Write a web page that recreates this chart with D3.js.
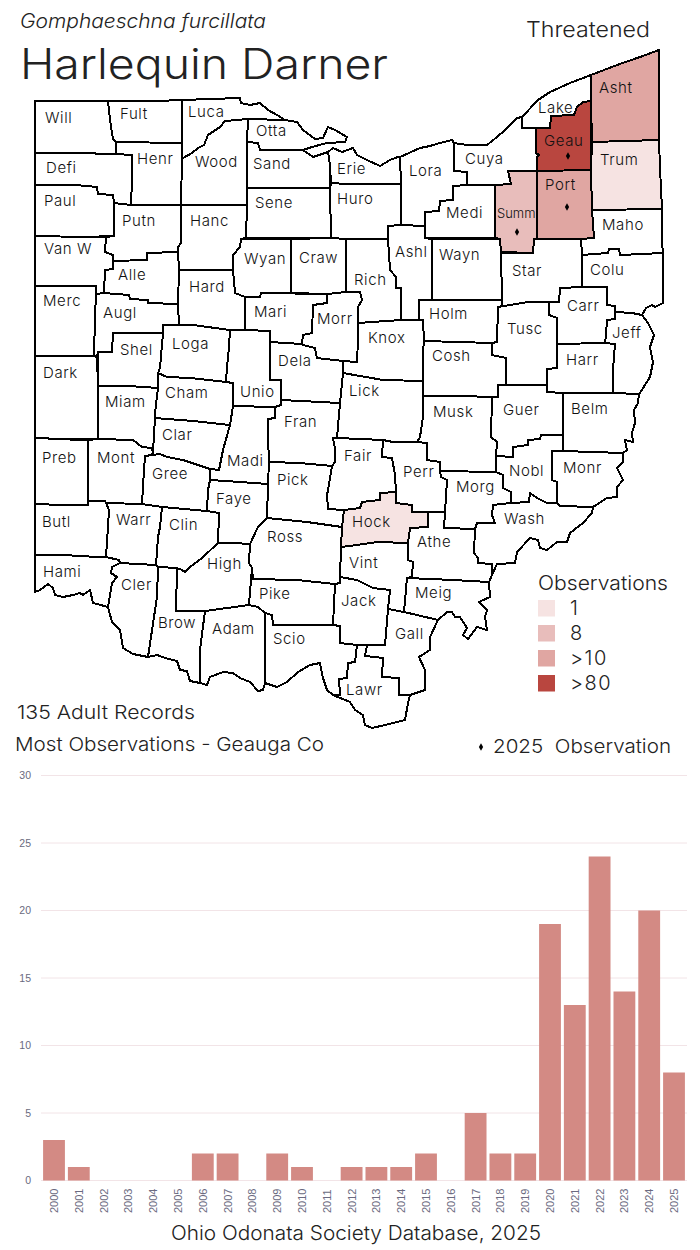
<!DOCTYPE html>
<html><head><meta charset="utf-8">
<script src="https://cdn.jsdelivr.net/npm/d3@7"></script>
<style>
html,body{margin:0;padding:0;background:#fff}
svg{display:block}
text{font-family:Inter,"Noto Sans",sans-serif;font-weight:300;fill:#222}
</style></head><body>
<svg id="c" width="700" height="1250"></svg>
<script>
// ---- Chart data ----
const years=["2000","2001","2002","2003","2004","2005","2006","2007","2008","2009","2010","2011","2012","2013","2014","2015","2016","2017","2018","2019","2020","2021","2022","2023","2024","2025"];
const yearCounts=[3,1,0,0,0,0,2,2,0,2,1,0,1,1,1,2,0,5,2,2,19,13,24,14,20,8];
const yTicks=[0,5,10,15,20,25,30];
const legendLabels=["1","8",">10",">80"];
const legendColors=["#f6e3e2","#e8bdbb","#e0a6a2","#b9463f"];
const countyClass={Trum:"1",Hock:"1",Summ:"8",Asht:">10",Port:">10",Geau:">80"};
const obs2025=["Geau","Port","Summ"];
// county outlines, in map units
const countyRings={
Will:[[35,101],[108,101],[110,120],[113,139],[116,142],[116,154],[96,154],[95,153],[35,153]],
Fult:[[108,101],[157,101],[182,100],[182,143],[116,142],[113,139],[110,120]],
Henr:[[116,142],[182,143],[182,157],[181,205],[131,205],[132,180],[132,155],[116,154]],
Luca:[[182,100],[210,99],[240,98],[241,103],[250,105],[260,103],[268,110],[277,115],[285,120],[248,119],[225,121],[220,127],[208,135],[204,145],[198,148],[192,153],[183,158],[182,157]],
Wood:[[182,157],[183,158],[192,153],[198,148],[204,145],[208,135],[220,127],[225,121],[248,119],[247,142],[247,188],[247,205],[181,205]],
Otta:[[248,119],[285,120],[297,122],[303,130],[315,139],[323,138],[328,127],[335,130],[347,137],[345,142],[327,143],[312,147],[303,150],[260,150],[258,143],[247,142]],
Sand:[[247,142],[258,143],[260,150],[303,150],[313,157],[328,152],[330,165],[330,188],[247,188]],
Sene:[[247,188],[330,188],[331,238],[246,238],[247,205]],
Hanc:[[181,205],[247,205],[246,238],[241,239],[240,247],[233,255],[233,270],[179,270],[178,252],[178,247],[181,243]],
Defi:[[35,153],[95,153],[96,154],[116,154],[132,155],[132,180],[131,205],[114,203],[113,195],[98,194],[97,187],[75,185],[35,185]],
Paul:[[35,185],[75,185],[97,187],[98,194],[113,195],[114,203],[114,236],[85,237],[35,236]],
Putn:[[114,203],[131,205],[181,205],[181,243],[178,247],[178,252],[147,253],[147,260],[113,261],[113,255],[105,252],[106,237],[114,236]],
VanW:[[35,236],[85,237],[106,237],[105,252],[113,255],[113,261],[113,269],[105,270],[104,293],[96,294],[96,286],[35,286]],
Alle:[[113,261],[147,260],[147,253],[178,252],[179,270],[178,304],[148,303],[148,300],[130,299],[129,295],[104,293],[105,270],[113,269]],
Augl:[[96,294],[104,293],[129,295],[130,299],[148,300],[148,303],[178,304],[179,325],[163,325],[163,333],[113,333],[112,352],[98,352],[97,357],[94,356],[95,317]],
Merc:[[35,286],[96,286],[96,294],[95,317],[94,356],[35,356]],
Dark:[[35,356],[94,356],[97,357],[98,386],[98,439],[50,439],[47,438],[35,438]],
Shel:[[98,352],[112,352],[113,333],[163,333],[160,368],[158,373],[158,388],[128,386],[98,386]],
Miam:[[98,386],[128,386],[158,388],[155,413],[155,418],[153,452],[151,448],[142,447],[133,440],[98,439]],
Loga:[[163,325],[179,325],[193,325],[230,330],[229,347],[227,367],[226,382],[190,378],[167,377],[158,373],[160,368],[163,333]],
Cham:[[158,373],[167,377],[190,378],[226,382],[233,383],[233,406],[230,425],[193,421],[155,418],[155,413],[158,388]],
Clar:[[155,418],[193,421],[230,425],[223,450],[219,470],[210,469],[183,460],[167,457],[160,454],[152,455],[153,452]],
Unio:[[230,330],[245,330],[270,331],[270,342],[270,380],[281,380],[281,405],[275,407],[233,406],[233,383],[226,382],[227,367],[229,347]],
Madi:[[233,406],[275,407],[275,418],[268,419],[268,437],[269,462],[268,484],[240,482],[210,480],[210,469],[219,470],[223,450],[230,425]],
Faye:[[210,480],[240,482],[268,484],[267,518],[258,527],[250,544],[233,543],[218,543],[219,513],[207,511],[208,490]],
Gree:[[152,455],[160,454],[167,457],[183,460],[210,469],[210,480],[208,490],[207,511],[162,507],[142,504],[144,470],[145,456]],
Mont:[[98,439],[133,440],[142,447],[151,448],[153,452],[152,455],[145,456],[144,470],[142,504],[106,503],[105,501],[88,501],[88,440]],
Preb:[[35,438],[47,438],[50,439],[88,440],[88,501],[88,505],[63,505],[35,504]],
Butl:[[35,504],[63,505],[88,505],[88,501],[105,501],[106,503],[109,510],[107,542],[106,557],[98,557],[63,555],[35,555]],
Warr:[[106,503],[142,504],[162,507],[160,527],[158,537],[156,565],[120,563],[119,560],[106,557],[107,542],[109,510]],
Clin:[[162,507],[207,511],[219,513],[218,543],[202,558],[190,567],[185,572],[182,570],[177,568],[158,567],[156,565],[158,537],[160,527]],
High:[[218,543],[233,543],[250,544],[249,563],[252,568],[251,580],[249,605],[227,608],[205,611],[176,611],[177,568],[182,570],[185,572],[190,567],[202,558]],
Ross:[[267,518],[307,522],[342,527],[341,547],[340,577],[340,583],[335,584],[297,580],[253,579],[252,568],[249,563],[250,544],[258,527]],
Pick:[[269,462],[300,463],[332,466],[328,490],[327,495],[328,509],[344,510],[342,527],[307,522],[267,518],[268,484]],
Fran:[[281,400],[340,403],[337,438],[333,438],[335,448],[335,462],[332,466],[300,463],[269,462],[268,437],[268,419],[275,418],[275,407],[281,405]],
Dela:[[270,342],[302,344],[303,345],[315,348],[317,358],[343,361],[343,373],[340,403],[281,400],[281,380],[270,380]],
Mari:[[245,297],[260,297],[261,293],[327,294],[327,303],[313,305],[312,333],[303,335],[302,344],[270,342],[270,331],[245,330]],
Wyan:[[241,239],[291,239],[291,293],[261,293],[260,297],[245,297],[235,293],[233,270],[233,255],[240,247]],
Hard:[[179,270],[233,270],[235,293],[245,297],[245,330],[230,330],[193,325],[179,325],[178,304]],
Craw:[[291,239],[331,238],[346,239],[346,292],[327,294],[291,293]],
Rich:[[346,239],[388,239],[390,270],[396,277],[396,288],[401,288],[401,320],[358,323],[358,307],[362,300],[360,292],[346,292]],
Morr:[[327,294],[346,292],[360,292],[362,300],[358,307],[358,323],[358,340],[357,362],[343,361],[317,358],[315,348],[303,345],[302,344],[303,335],[312,333],[313,305],[327,303]],
Knox:[[358,323],[401,320],[419,320],[423,320],[424,341],[423,352],[423,381],[383,380],[343,373],[343,361],[357,362],[358,340]],
Lick:[[343,373],[383,380],[423,381],[423,396],[423,417],[420,437],[417,442],[393,442],[383,440],[337,438],[340,403]],
Fair:[[333,438],[337,438],[383,440],[382,457],[392,458],[395,475],[396,492],[380,493],[380,500],[362,502],[360,508],[344,510],[328,509],[327,495],[328,490],[332,466],[335,462],[335,448]],
Hock:[[344,510],[360,508],[362,502],[380,500],[380,493],[396,492],[396,503],[412,505],[412,512],[428,512],[428,527],[410,528],[408,543],[377,542],[357,545],[341,547],[342,527]],
Vint:[[341,547],[357,545],[377,542],[408,543],[408,560],[413,562],[412,577],[407,578],[404,612],[388,609],[390,590],[373,588],[357,580],[340,577]],
Jack:[[340,577],[357,580],[373,588],[390,590],[388,609],[385,645],[367,645],[357,645],[340,643],[340,626],[333,625],[335,584],[340,583]],
Pike:[[253,579],[297,580],[335,584],[333,625],[273,625],[272,615],[265,613],[258,607],[249,605],[251,580]],
Scio:[[265,613],[272,615],[273,625],[333,625],[340,626],[340,643],[357,645],[355,662],[348,663],[347,678],[339,679],[340,695],[333,695],[327,690],[323,678],[320,663],[310,665],[298,672],[287,682],[277,687],[265,683]],
Adam:[[205,611],[227,608],[249,605],[258,607],[265,613],[265,683],[263,690],[258,691],[250,682],[240,678],[233,673],[223,672],[210,677],[207,685],[200,683],[200,650]],
Brow:[[158,567],[177,568],[176,611],[205,611],[200,650],[200,683],[190,681],[187,671],[180,670],[177,661],[165,658],[157,655],[148,657],[157,597]],
Cler:[[120,563],[156,565],[158,567],[157,597],[148,657],[133,654],[123,648],[120,630],[112,622],[108,607],[112,583],[117,577],[111,573],[112,567]],
Hami:[[35,555],[63,555],[98,557],[106,557],[119,560],[120,563],[112,567],[111,573],[117,577],[112,583],[108,607],[93,603],[90,590],[83,595],[80,593],[73,595],[63,597],[55,595],[53,588],[48,584],[40,590],[35,592]],
Musk:[[423,396],[455,396],[498,397],[492,397],[491,437],[497,442],[496,456],[496,472],[440,471],[440,462],[427,460],[427,443],[417,442],[420,437],[423,417]],
Perr:[[383,440],[393,442],[417,442],[427,443],[427,460],[440,462],[440,471],[441,477],[447,480],[445,512],[428,512],[412,512],[412,505],[396,503],[396,492],[395,475],[392,458],[382,457]],
Morg:[[440,471],[496,472],[503,475],[503,488],[511,492],[511,503],[493,505],[492,515],[495,523],[477,523],[475,529],[444,528],[445,512],[447,480],[441,477]],
Athe:[[428,512],[445,512],[444,528],[475,529],[474,553],[478,558],[478,563],[492,564],[492,575],[489,582],[453,580],[407,578],[412,577],[413,562],[408,560],[408,543],[410,528],[428,527]],
Meig:[[407,578],[453,580],[489,582],[490,597],[479,602],[487,610],[485,617],[487,630],[477,627],[468,639],[463,635],[467,628],[460,617],[455,617],[452,612],[447,612],[438,620],[404,612]],
Gall:[[388,609],[404,612],[438,620],[430,637],[430,650],[419,657],[425,670],[425,690],[410,695],[399,695],[399,678],[382,677],[383,658],[365,656],[367,645],[385,645]],
Lawr:[[357,645],[367,645],[365,656],[383,658],[382,677],[399,678],[399,695],[410,695],[408,703],[405,720],[385,725],[372,728],[365,725],[363,715],[355,710],[350,702],[333,695],[340,695],[339,679],[347,678],[348,663],[355,662]],
Wash:[[493,505],[511,503],[529,502],[530,493],[537,498],[547,503],[557,503],[560,506],[593,507],[592,513],[583,523],[570,533],[567,542],[557,542],[547,550],[540,548],[538,540],[530,538],[517,552],[515,563],[497,564],[492,575],[492,564],[478,563],[478,558],[474,553],[475,529],[477,523],[495,523],[492,515]],
Nobl:[[496,456],[513,457],[513,447],[528,445],[528,440],[540,439],[541,435],[563,435],[563,451],[552,451],[552,480],[557,482],[557,503],[547,503],[537,498],[530,493],[529,502],[511,503],[511,492],[503,488],[503,475],[496,472]],
Guer:[[498,385],[547,385],[547,392],[563,393],[563,435],[541,435],[540,439],[528,440],[528,445],[513,447],[513,457],[496,456],[497,442],[491,437],[492,397],[498,397]],
Belm:[[563,393],[613,393],[639,394],[638,403],[634,410],[635,423],[632,433],[633,442],[625,440],[627,450],[623,453],[563,451]],
Monr:[[552,451],[563,451],[623,453],[623,462],[617,468],[623,480],[617,487],[617,497],[607,498],[593,507],[560,506],[557,503],[557,482],[552,480]],
Harr:[[557,344],[605,343],[615,344],[613,370],[613,393],[563,393],[547,392],[547,369],[557,368]],
Jeff:[[615,312],[632,313],[642,315],[648,323],[654,335],[650,347],[653,362],[650,377],[640,393],[639,394],[613,393],[613,370],[615,344],[605,343],[606,335],[607,320],[615,319]],
Colu:[[582,255],[608,253],[609,249],[619,249],[620,255],[663,253],[663,303],[655,307],[652,305],[646,308],[642,315],[632,313],[615,312],[615,306],[607,305],[607,287],[582,287]],
Carr:[[560,288],[582,287],[607,287],[607,305],[615,306],[615,319],[607,320],[606,335],[605,343],[557,344],[557,318],[549,315],[549,302],[559,302]],
Tusc:[[498,307],[528,302],[549,302],[549,315],[557,318],[557,344],[557,368],[547,369],[547,385],[506,385],[506,358],[492,355],[492,343],[497,342]],
Cosh:[[424,341],[492,343],[492,355],[506,358],[506,385],[498,385],[498,397],[455,396],[423,396],[423,381],[423,352]],
Holm:[[419,300],[432,300],[502,300],[502,306],[498,307],[497,342],[492,343],[424,341],[423,320],[419,320]],
Wayn:[[432,239],[500,239],[501,253],[502,300],[432,300]],
Ashl:[[388,226],[401,225],[425,226],[425,238],[432,239],[432,300],[419,300],[419,320],[401,320],[401,288],[396,288],[396,277],[390,270],[388,239]],
Huro:[[331,183],[346,184],[401,184],[401,225],[388,226],[388,239],[346,239],[331,238],[330,188]],
Erie:[[328,152],[333,148],[342,152],[353,148],[357,155],[367,160],[380,166],[390,160],[398,157],[400,157],[401,184],[346,184],[331,183],[330,165]],
Lora:[[400,157],[420,148],[430,146],[440,143],[452,140],[454,143],[454,171],[467,172],[467,185],[453,186],[453,200],[440,201],[439,211],[425,212],[425,226],[401,225],[401,184]],
Medi:[[453,186],[467,185],[495,185],[495,238],[425,238],[425,226],[425,212],[439,211],[440,201],[453,200]],
Cuya:[[454,143],[467,145],[487,145],[497,137],[505,130],[517,118],[522,117],[522,128],[536,128],[536,153],[539,155],[537,157],[537,171],[508,171],[511,184],[495,185],[467,185],[467,172],[454,171]],
Lake:[[522,117],[538,100],[550,92],[570,83],[591,75],[591,101],[583,102],[577,107],[574,115],[551,116],[550,128],[536,128],[522,128]],
Geau:[[591,101],[591,170],[537,171],[537,157],[539,155],[536,153],[536,128],[550,128],[551,116],[574,115],[577,107],[583,102]],
Asht:[[591,75],[617,65],[640,57],[659,50],[659,100],[659,140],[592,142],[591,101]],
Trum:[[592,142],[659,140],[660,168],[662,209],[592,210],[591,170]],
Port:[[537,171],[591,170],[592,210],[594,238],[581,239],[537,239]],
Summ:[[508,171],[537,171],[537,239],[534,239],[533,253],[501,252],[500,239],[495,238],[495,185],[511,184]],
Maho:[[592,210],[662,209],[662,242],[663,253],[620,255],[619,249],[609,249],[608,253],[582,255],[581,239],[594,238]],
Star:[[501,253],[533,253],[534,239],[581,239],[582,255],[582,287],[560,288],[559,302],[528,302],[498,307],[502,306],[502,300]]
};
// label anchors in map units: [county key, text, left, baseline]
const countyLabels=[["Will","Will",45,123],["Fult","Fult",120,119],["Luca","Luca",188,117],["Otta","Otta",256,136],["Henr","Henr",137,164],["Wood","Wood",195,167],["Sand","Sand",253,169],["Erie","Erie",337,174],["Lora","Lora",409,176],["Cuya","Cuya",465,164],["Defi","Defi",46,173],["Huro","Huro",337,204],["Sene","Sene",255,208],["Paul","Paul",44,206],["Putn","Putn",122,226],["Hanc","Hanc",190,226],["Medi","Medi",446,218],["Summ","Summ",497,218],["Port","Port",545,190],["Geau","Geau",544,146],["Asht","Asht",599,93],["Trum","Trum",600,165],["Lake","Lake",538,113],["Maho","Maho",602,230],["Ashl","Ashl",395,257],["Wayn","Wayn",439,260],["Star","Star",512,276],["Colu","Colu",590,275],["Wyan","Wyan",244,264],["Craw","Craw",299,263],["VanW","Van W",44,254],["Alle","Alle",118,280],["Merc","Merc",43,306],["Hard","Hard",189,292],["Rich","Rich",354,285],["Mari","Mari",254,317],["Augl","Augl",103,318],["Morr","Morr",317,324],["Holm","Holm",429,319],["Carr","Carr",567,311],["Tusc","Tusc",507,334],["Jeff","Jeff",612,338],["Knox","Knox",368,343],["Shel","Shel",120,355],["Loga","Loga",172,349],["Dela","Dela",278,366],["Cosh","Cosh",432,361],["Harr","Harr",566,365],["Dark","Dark",43,378],["Cham","Cham",165,398],["Unio","Unio",240,397],["Lick","Lick",349,396],["Miam","Miam",105,407],["Guer","Guer",503,415],["Musk","Musk",433,417],["Belm","Belm",571,414],["Fran","Fran",284,427],["Clar","Clar",162,440],["Preb","Preb",42,463],["Mont","Mont",97,463],["Madi","Madi",227,466],["Gree","Gree",152,479],["Pick","Pick",277,485],["Fair","Fair",344,461],["Perr","Perr",403,477],["Nobl","Nobl",509,476],["Monr","Monr",563,473],["Morg","Morg",456,492],["Faye","Faye",216,504],["Butl","Butl",42,527],["Warr","Warr",116,525],["Clin","Clin",169,530],["Wash","Wash",504,524],["Hock","Hock",352,527],["Ross","Ross",267,542],["Athe","Athe",417,547],["Hami","Hami",43,577],["High","High",207,569],["Vint","Vint",349,568],["Cler","Cler",121,590],["Pike","Pike",259,599],["Meig","Meig",415,598],["Jack","Jack",341,606],["Brow","Brow",158,628],["Adam","Adam",212,634],["Gall","Gall",395,639],["Scio","Scio",273,644],["Lawr","Lawr",346,695]];
const dotAnchors={Geau:[568,156],Port:[567,207],Summ:[517,232]};

// ---- Drawing ----
const svg=d3.select("#c");
const path=d3.geoPath(d3.geoIdentity());
const colorOf=d3.scaleOrdinal().domain(legendLabels).range(legendColors);
const features=Object.entries(countyRings).map(([k,r])=>({type:"Feature",id:k,geometry:{type:"Polygon",coordinates:[[...r,r[0]]]}}));
const map=svg.append("g");
map.selectAll("path").data(features).join("path")
  .attr("d",path)
  .attr("fill",d=>countyClass[d.id]?colorOf(countyClass[d.id]):"#fff")
  .attr("stroke","#000").attr("stroke-width",2).attr("stroke-linejoin","round")
  .attr("shape-rendering","crispEdges");
map.selectAll("text").data(countyLabels).join("text")
  .attr("x",d=>d[2]).attr("y",d=>d[3]).text(d=>d[1])
  .style("font-size",d=>d[0]==="Summ"?"13px":"15px").style("letter-spacing",d=>d[0]==="Summ"?"0":"0.6px").style("fill","#111");
const diamond=d3.symbol().type(d3.symbolDiamond).size(16);
map.selectAll("path.dot").data(obs2025).join("path").attr("class","dot")
  .attr("d",diamond).attr("fill","#000")
  .attr("transform",d=>`translate(${dotAnchors[d][0]},${dotAnchors[d][1]})`);

function label(t,x,y,size,width,opts={}){
  const e=svg.append("text").attr("x",x).attr("y",y).text(t).style("font-size",size+"px");
  if(width) e.attr("textLength",width).attr("lengthAdjust","spacingAndGlyphs");
  if(opts.italic) e.style("font-style","italic");
  return e;
}
label("Gomphaeschna furcillata",20,28,20,246,{italic:true});
label("Harlequin Darner",20,79,42,368);
label("Threatened",526,37,22,124);
label("Observations",538,590,20,130);
label("135 Adult Records",17,719,19,178);
label("Most Observations - Geauga Co",15,751,19,309);
label("2025  Observation",493,753,19,178).style("white-space","pre");
label("Ohio Odonata Society Database, 2025",171,1240,20,370);
svg.append("path").attr("d",diamond).attr("fill","#000").attr("transform","translate(481,747)");

const legendY=d3.scaleBand().domain(legendLabels).range([600,700]);
svg.selectAll("rect.lg").data(legendLabels).join("rect").attr("class","lg")
  .attr("x",538).attr("y",d=>legendY(d)).attr("width",17).attr("height",16.5)
  .attr("fill",d=>colorOf(d));
svg.selectAll("text.lg").data(legendLabels).join("text").attr("class","lg")
  .attr("x",570).attr("y",d=>legendY(d)+15).text(d=>d).style("font-size","20px").style("letter-spacing","1.5px");

const x=d3.scaleBand().domain(years).range([41.6,686.4]).paddingInner(0.12).paddingOuter(0.06);
const y=d3.scaleLinear().domain([0,30]).range([1180.5,775.5]);
svg.append("g").selectAll("line").data(yTicks).join("line")
  .attr("x1",41).attr("x2",687).attr("y1",d=>y(d)).attr("y2",d=>y(d))
  .attr("stroke","#f2e4e7").attr("stroke-width",1);
svg.append("g").selectAll("text").data(yTicks).join("text")
  .attr("x",31).attr("y",d=>y(d)+3.5).attr("text-anchor","end").text(d=>d)
  .style("font-family","'Liberation Sans',Arial,sans-serif").style("font-weight",400).style("font-size","10.5px").style("fill","#6a6a80");
svg.append("g").selectAll("rect").data(years).join("rect")
  .attr("x",d=>x(d)).attr("width",x.bandwidth())
  .attr("y",(d,i)=>y(yearCounts[i])).attr("height",(d,i)=>y(0)-y(yearCounts[i]))
  .attr("fill","#d38a84");
svg.append("g").selectAll("text").data(years).join("text")
  .attr("transform",d=>`translate(${x(d)+x.bandwidth()/2+4},1213) rotate(-90)`).text(d=>d)
  .style("font-family","'Liberation Sans',Arial,sans-serif").style("font-weight",400).style("font-size","11px").style("fill","#6a6a80");
</script>
</body></html>
